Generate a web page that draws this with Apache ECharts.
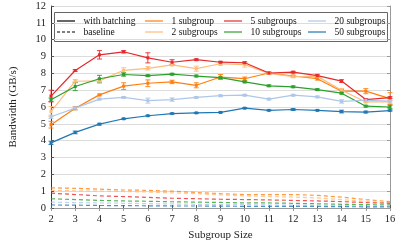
<!DOCTYPE html>
<html><head><meta charset="utf-8">
<script src="https://cdn.jsdelivr.net/npm/echarts@6/dist/echarts.min.js"></script>
<style>html,body{margin:0;padding:0;background:#fff}#c{width:399px;height:246px}</style>
</head><body><div id="c"></div>
<script>
const sizes = [2,3,4,5,6,7,8,9,10,11,12,13,14,15,16];
const yTicks = [0,1,2,3,4,5,6,7,8,9,10,11,12];
const seriesNames = ['1 subgroup','2 subgroups','5 subgroups','10 subgroups','20 subgroups','50 subgroups'];
const colors = ['#ff7f0e','#ffbb78','#e8282b','#2ca02c','#aec7e8','#1f77b4'];
// with batching (solid)
const batch1  = [4.95,5.93,6.72,7.24,7.41,7.49,7.29,7.78,7.68,8.02,7.84,7.68,6.94,6.94,6.5];
const batch2  = [5.73,7.53,7.55,8.18,8.3,8.5,8.28,8.57,8.52,8.0,7.8,7.82,7.0,6.3,6.3];
const batch5  = [6.65,8.17,9.1,9.28,8.92,8.66,8.81,8.66,8.63,8.02,8.07,7.86,7.54,6.44,6.56];
const batch10 = [6.43,7.22,7.68,7.93,7.86,7.95,7.84,7.74,7.49,7.26,7.2,7.03,6.82,6.05,6.0];
const batch20 = [5.42,5.93,6.47,6.57,6.38,6.44,6.57,6.67,6.7,6.47,6.7,6.6,6.33,6.4,6.35];
const batch50 = [3.87,4.49,4.98,5.3,5.48,5.61,5.65,5.68,5.93,5.8,5.85,5.8,5.73,5.7,5.79];
// error (half-range)
const err1  = [0.2,0.1,0.05,0.2,0.2,0.1,0.15,0.15,0.1,0.05,0.05,0.08,0.1,0.15,0.35];
const err2  = [0.3,0.1,0.15,0.15,0.1,0.05,0.15,0.1,0.15,0.05,0.05,0.05,0.1,0.05,0.1];
const err5  = [0.35,0.05,0.25,0.07,0.3,0.15,0.05,0.05,0.05,0.05,0.05,0.08,0.08,0.05,0.05];
const err10 = [0.1,0.25,0.2,0.1,0.05,0.05,0.05,0.05,0.05,0.05,0.05,0.05,0.05,0.05,0.1];
const err20 = [0.1,0.1,0.05,0.05,0.15,0.1,0.05,0.05,0.05,0.05,0.05,0.05,0.1,0.05,0.05];
const err50 = [0.1,0.08,0.05,0.03,0.03,0.03,0.03,0.03,0.03,0.03,0.05,0.03,0.08,0.05,0.03];
// baseline (dashed)
const base1  = [1.2,1.17,1.12,1.07,1.05,1.0,0.92,0.85,0.8,0.8,0.8,0.75,0.65,0.5,0.38];
const base2  = [1.05,1.02,1.0,0.98,0.95,0.9,0.85,0.78,0.72,0.68,0.65,0.6,0.5,0.4,0.3];
const base5  = [0.88,0.8,0.72,0.68,0.63,0.58,0.55,0.52,0.5,0.48,0.45,0.42,0.38,0.32,0.28];
const base10 = [0.55,0.5,0.45,0.42,0.4,0.37,0.35,0.33,0.3,0.3,0.28,0.25,0.22,0.2,0.18];
const base20 = [0.35,0.32,0.3,0.28,0.26,0.24,0.22,0.2,0.2,0.18,0.17,0.16,0.15,0.12,0.1];
const base50 = [0.18,0.17,0.15,0.14,0.13,0.12,0.12,0.11,0.1,0.1,0.1,0.09,0.08,0.07,0.06];

const batches = [batch1,batch2,batch5,batch10,batch20,batch50];
const errs = [err1,err2,err5,err10,err20,err50];
const bases = [base1,base2,base5,base10,base20,base50];
const FONT = 'Liberation Serif';
const lineIcon = 'path://M0,0h24v1.6h-24z';
const dashIcon = 'path://M0,0h4v1h-4zM6.5,0h4v1h-4zM13,0h4v1h-4zM19.5,0h4v1h-4z';

const series = [];
series.push({name:'with batching',type:'line',data:[],symbol:'none',lineStyle:{color:'#000'},itemStyle:{color:'#000'}});
series.push({name:'baseline',type:'line',data:[],symbol:'none',lineStyle:{color:'#000',type:'dashed'},itemStyle:{color:'#000'}});
for (let i=0;i<6;i++){
  series.push({name:seriesNames[i]+' (baseline)',type:'line',z:2,
    data:sizes.map((s,j)=>[s,bases[i][j]]),symbol:'none',
    lineStyle:{color:colors[i],width:1.2,type:[4,3],opacity:0.8},itemStyle:{color:colors[i]}});
}
for (let i=0;i<6;i++){
  series.push({name:seriesNames[i],type:'line',z:4,
    data:sizes.map((s,j)=>[s,batches[i][j]]),symbol:'rect',symbolSize:3,
    lineStyle:{color:colors[i],width:1.2},itemStyle:{color:colors[i]}});
  series.push({name:seriesNames[i]+' err',type:'custom',z:3,
    data:sizes.map((s,j)=>[s,batches[i][j]-errs[i][j],batches[i][j]+errs[i][j]]),
    renderItem:(params,api)=>{
      const lo=api.coord([api.value(0),api.value(1)]);
      const hi=api.coord([api.value(0),api.value(2)]);
      const w=2.5;
      const st={stroke:colors[i],lineWidth:0.9};
      return {type:'group',children:[
        {type:'line',shape:{x1:lo[0],y1:lo[1],x2:hi[0],y2:hi[1]},style:st},
        {type:'line',shape:{x1:lo[0]-w,y1:lo[1],x2:lo[0]+w,y2:lo[1]},style:st},
        {type:'line',shape:{x1:hi[0]-w,y1:hi[1],x2:hi[0]+w,y2:hi[1]},style:st}
      ]};
    }});
}
function leg(left, names, icons){
  return {orient:'vertical',left:left,top:16,padding:0,itemGap:1,itemWidth:18,itemHeight:1.6,
    data:names.map((n,k)=>({name:n,icon:icons[k]})),
    textStyle:{fontFamily:FONT,fontSize:9.5,color:'#111',padding:[0,0,0,3.5]},
    selectedMode:false,inactiveColor:'#000'};
}
const option = {
  animation:false,
  grid:{left:44,right:9,top:6,bottom:35},
  xAxis:[{type:'value',min:2,max:16,interval:1,
    axisLine:{lineStyle:{color:'#333',width:1}},
    axisTick:{inside:true,length:3,lineStyle:{color:'#555'}},
    axisLabel:{fontFamily:FONT,fontSize:10.5,color:'#222',margin:6},
    splitLine:{show:false},
    name:'Subgroup Size',nameLocation:'middle',nameGap:22,
    nameTextStyle:{fontFamily:FONT,fontSize:11,color:'#222'}},
    {type:'value',min:2,max:16,interval:1,position:'top',
    axisLine:{lineStyle:{color:'#999'}},axisTick:{inside:true,length:3,lineStyle:{color:'#999'}},
    axisLabel:{show:false},splitLine:{show:false}}],
  yAxis:[{type:'value',min:0,max:12,interval:1,
    axisLine:{show:true,lineStyle:{color:'#333',width:1}},
    axisTick:{show:true,inside:true,length:3,lineStyle:{color:'#555'}},
    axisLabel:{fontFamily:FONT,fontSize:10.5,color:'#222',margin:5,
      formatter:v=>yTicks.includes(v)?String(v):''},
    splitLine:{lineStyle:{color:'#dcdcdc',width:1}},
    name:'Bandwidth (GB/s)',nameLocation:'middle',nameGap:32,
    nameTextStyle:{fontFamily:FONT,fontSize:11,color:'#222'}},
    {type:'value',min:0,max:12,interval:1,position:'right',
    axisLine:{show:true,lineStyle:{color:'#999'}},axisTick:{show:true,inside:true,length:3,lineStyle:{color:'#999'}},
    axisLabel:{show:false},splitLine:{show:false}}],
  legend:[
    leg(57,['with batching','baseline'],[lineIcon,dashIcon]),
    leg(145,['1 subgroup','2 subgroups'],[lineIcon,lineIcon]),
    leg(224,['5 subgroups','10 subgroups'],[lineIcon,lineIcon]),
    leg(308,['20 subgroups','50 subgroups'],[lineIcon,lineIcon])
  ],
  graphic:[{type:'rect',left:54,top:12,shape:{width:333,height:29},
    style:{fill:'#fff',stroke:'#666',lineWidth:1},z:-1}],
  series:series
};
const chart = echarts.init(document.getElementById('c'),null,{renderer:'canvas'});
chart.setOption(option);
</script></body></html>
